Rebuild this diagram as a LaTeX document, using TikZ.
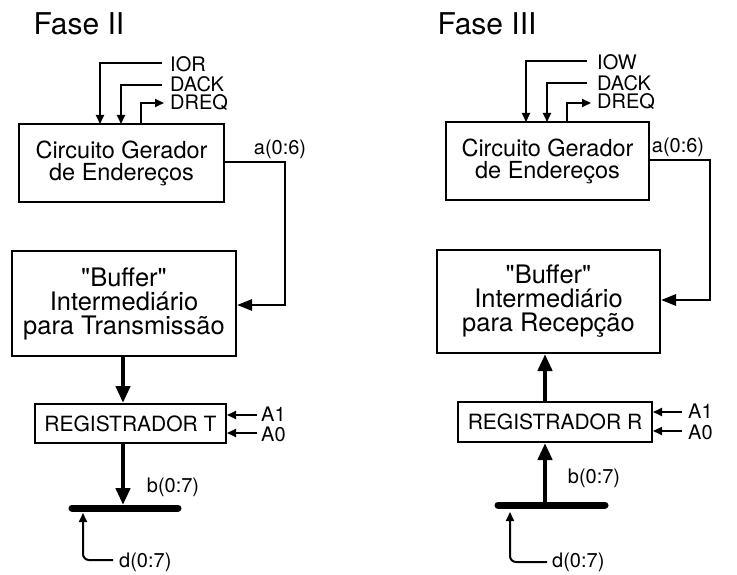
\documentclass[tikz,border=0pt]{standalone}
\usepackage{fontspec}
\setmainfont{TeX Gyre Heros}[Ligatures=TeXOff]
\usetikzlibrary{arrows.meta}
\begin{document}
\begin{tikzpicture}[x=1pt,y=-1pt,
  box/.style={draw, line width=2pt, inner sep=0pt, align=center},
  genfont/.style={font=\fontsize{23.5}{22}\selectfont},
  buffont/.style={font=\fontsize{25.5}{24}\selectfont},
  regfont/.style={font=\fontsize{21}{21}\selectfont},
  lbl/.style={font=\fontsize{20}{19}\selectfont, inner sep=0pt},
  ttl/.style={font=\fontsize{30}{30}\selectfont, inner sep=0pt},
  sig/.style={line width=2pt, -{Triangle[length=9pt,width=8pt]}},
  addr/.style={line width=2.8pt, -{Triangle[length=15pt,width=11pt]}},
  fat/.style={line width=4.8pt, -{Triangle[length=17pt,width=14pt]}},
  bus/.style={line width=7pt, line cap=round}
]
\useasboundingbox (0,0) rectangle (737,575);

% ---------------- Fase II ----------------
\node[ttl] (t1) at (79,24) {Fase II};
\node[box, genfont, minimum width=205pt, minimum height=78pt] (gen1) at (121.5,163) {Circuito Gerador\\de Endereços};
\node[box, buffont, minimum width=224pt, minimum height=105pt] (buf1) at (124,303.5) {"Buffer"\\Intermediário\\para Transmissão};
\node[box, regfont, minimum width=191pt, minimum height=39pt] (reg1) at (130.5,423.5) {REGISTRADOR T};

\coordinate (ior1) at (162,63);
\coordinate (dack1) at (162,85);
\coordinate (dreq1) at (164,103);
\coordinate (g1a) at (100,124);
\coordinate (g1b) at (121,124);
\coordinate (g1c) at (141,124);
\node[lbl, anchor=west] (lior1) at (170,64) {IOR};
\node[lbl, anchor=west] (ldack1) at (170,84) {DACK};
\node[lbl, anchor=west] (ldreq1) at (170,103) {DREQ};
\draw[sig] (ior1) -| (g1a);
\draw[sig] (dack1) -| (g1b);
\draw[sig] (g1c) |- (dreq1);

\node[lbl, anchor=south] (la1) at (280,159) {a(0:6)};
\coordinate (ac1) at (285,162);
\draw[addr] (gen1.east |- ac1) -- (ac1) |- (buf1.east |- 0,305);

\draw[fat] (buf1.south -| 123,0) -- (reg1.north -| 123,0);
\coordinate (bus1a) at (72,508);
\coordinate (bus1b) at (178,508);
\draw[bus] (bus1a) -- (bus1b);
\draw[fat] (reg1.south -| 123,0) -- (123,505);
\node[lbl] (lb1) at (173,487) {b(0:7)};

\coordinate (a11) at (257,415);
\coordinate (a01) at (257,433);
\draw[sig] (a11) -- (reg1.east |- a11);
\draw[sig] (a01) -- (reg1.east |- a01);
\node[lbl, anchor=west] (la11) at (261,414) {A1};
\node[lbl, anchor=west] (la01) at (261,434) {A0};

\coordinate (d1) at (113,560);
\node[lbl, anchor=west] (ld1) at (119,562) {d(0:7)};
\draw[sig, rounded corners=6pt] (d1) -| (83,513);

% ---------------- Fase III ----------------
\node[ttl] (t2) at (487,24) {Fase III};
\node[box, genfont, minimum width=203pt, minimum height=78pt] (gen2) at (547.5,161) {Circuito Gerador\\de Endereços};
\node[box, buffont, minimum width=223pt, minimum height=103pt] (buf2) at (548.5,301.5) {"Buffer"\\Intermediário\\para Recepção};
\node[box, regfont, minimum width=194pt, minimum height=40pt] (reg2) at (555,422) {REGISTRADOR R};

\coordinate (iow2) at (587,61);
\coordinate (dack2) at (587,83);
\coordinate (dreq2) at (591,103);
\coordinate (g2a) at (526,122);
\coordinate (g2b) at (547,122);
\coordinate (g2c) at (567,122);
\node[lbl, anchor=west] (liow2) at (597,62) {IOW};
\node[lbl, anchor=west] (ldack2) at (597,83) {DACK};
\node[lbl, anchor=west] (ldreq2) at (597,102) {DREQ};
\draw[sig] (iow2) -| (g2a);
\draw[sig] (dack2) -| (g2b);
\draw[sig] (g2c) |- (dreq2);

\node[lbl, anchor=south] (la2) at (678,157) {a(0:6)};
\coordinate (ac2) at (710,160);
\draw[addr] (gen2.east |- ac2) -- (ac2) |- (buf2.east |- 0,300);

\coordinate (bus2a) at (498,505);
\coordinate (bus2b) at (605,505);
\draw[bus] (bus2a) -- (bus2b);
\draw[fat] (545,502) -- (reg2.south -| 545,0);
\draw[fat] (reg2.north -| 545,0) -- (buf2.south -| 545,0);
\node[lbl] (lb2) at (594,478) {b(0:7)};

\coordinate (a12) at (682,412);
\coordinate (a02) at (682,431);
\draw[sig] (a12) -- (reg2.east |- a12);
\draw[sig] (a02) -- (reg2.east |- a02);
\node[lbl, anchor=west] (la12) at (688,411) {A1};
\node[lbl, anchor=west] (la02) at (688,432) {A0};

\coordinate (d2) at (547,562);
\node[lbl, anchor=west] (ld2) at (552,562) {d(0:7)};
\draw[sig, rounded corners=6pt] (d2) -| (510,512);
\end{tikzpicture}
\end{document}
